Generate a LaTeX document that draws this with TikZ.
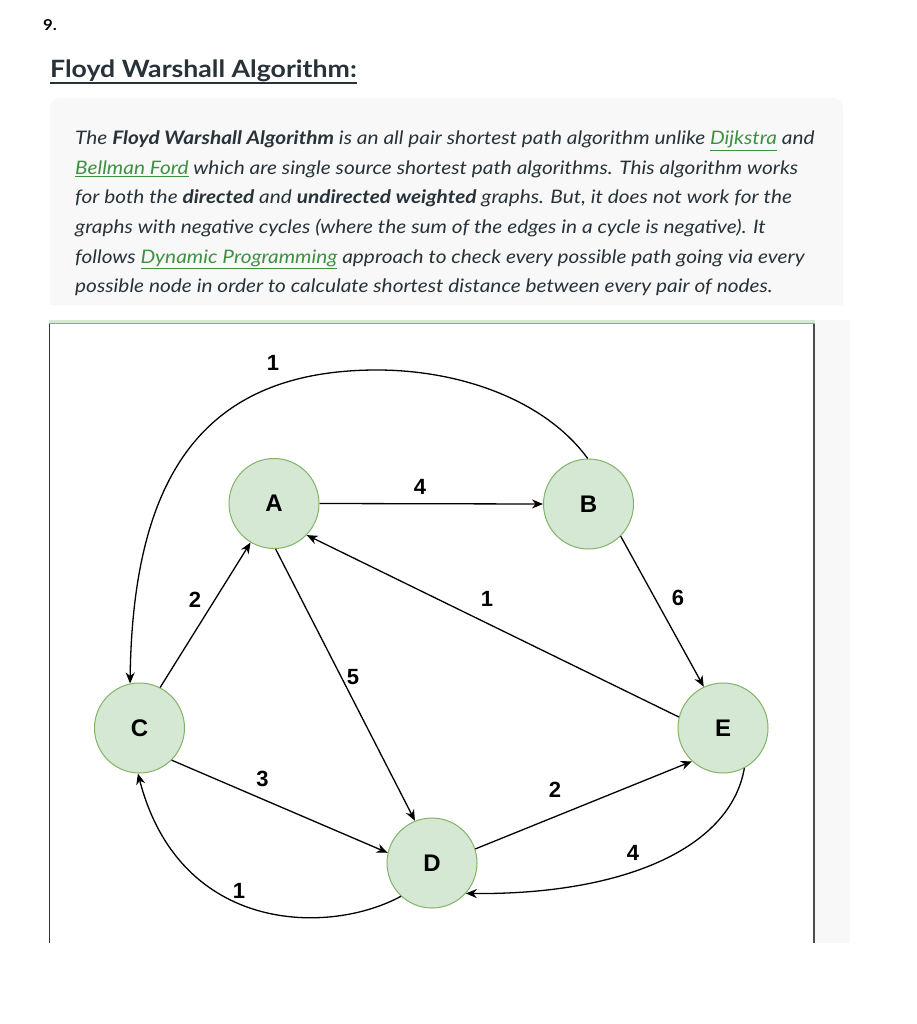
\documentclass[tikz,border=0pt]{standalone}
\usepackage{fontspec}
\setmainfont{Lato}[FakeStretch=1.12]
\newfontfamily\dfont{Liberation Sans}
\usetikzlibrary{arrows.meta}
\definecolor{txt}{HTML}{273239}
\definecolor{lnk}{HTML}{3F9142}
\definecolor{nfill}{HTML}{D5E8D4}
\definecolor{nline}{HTML}{82B366}
\definecolor{panel}{HTML}{F8F8F8}
\newcommand\lk[1]{\textcolor{lnk}{\underline{#1}}}
\tikzset{
  vtx/.style={circle, fill=nfill, draw=nline, line width=1pt, minimum size=90pt, inner sep=0pt,
    font=\dfont\bfseries\fontsize{24}{24}\selectfont},
  edge/.style={draw=black, line width=1.3pt, -{Stealth[length=11pt,width=9pt,inset=3.5pt]}},
  wlab/.style={font=\dfont\bfseries\fontsize{22}{22}\selectfont, inner sep=0pt},
  para/.style={anchor=base west, inner sep=0pt, text=txt, font=\fontsize{18.6}{22}\selectfont\itshape}
}
\begin{document}
\begin{tikzpicture}[x=1pt,y=-1pt]
\useasboundingbox (0,0) rectangle (916,1024);
\fill[white] (0,0) rectangle (916,1024);

% header
\node[anchor=base west, inner sep=0pt, font=\fontsize{15}{17}\selectfont\bfseries] (num) at (43,31) {9.};
\node[anchor=base west, inner sep=0pt, text=txt, font=\fontsize{23.8}{28}\selectfont\bfseries] (title) at (50,78) {Floyd Warshall Algorithm:};
\draw[txt, line width=1.4pt] ([yshift=-5pt]title.base west) -- ([yshift=-5pt]title.base east);

% text box
\fill[panel, rounded corners=10pt] (50,305) -- (50,98) -- (843,98) -- (843,305);
\node[para] (l1) at (75,145) {The \textbf{Floyd Warshall Algorithm} is an all pair shortest path algorithm unlike \lk{Dijkstra} and};
\node[para] (l2) at (75,174.5) {\lk{Bellman Ford} which are single source shortest path algorithms. This algorithm works};
\node[para] (l3) at (75,204) {for both the \textbf{directed} and \textbf{undirected weighted} graphs. But, it does not work for the};
\node[para] (l4) at (75,233.5) {graphs with negative cycles (where the sum of the edges in a cycle is negative). It};
\node[para] (l5) at (75,263) {follows \lk{Dynamic Programming} approach to check every possible path going via every};
\node[para] (l6) at (75,292.5) {possible node in order to calculate shortest distance between every pair of nodes.};

% image frame
\fill[panel] (815,320) rectangle (850,943);
\fill[nfill] (49,320) rectangle (815,323);
\draw[nline, line width=1.5pt] (49,323.5) -- (815,323.5);
\draw[black!80, line width=1.3pt] (49.5,324) -- (49.5,943);
\draw[black!70, line width=1.3pt] (814,324) -- (814,943);

% nodes
\node[vtx] (A) at (274,503.5) {A};
\node[vtx] (B) at (588.5,504) {B};
\node[vtx] (C) at (139.5,728) {C};
\node[vtx] (D) at (432,863) {D};
\node[vtx] (E) at (723,728) {E};
\coordinate (top) at (377,370);

% edges
\draw[edge] (A.0) -- (B.180);
\draw[edge] (C.63) -- (A.239);
\draw[edge] (A.272) -- (D.112);
\draw[edge] (E.166) -- (A.316);
\draw[edge] (B.315) -- (E.115);
\draw[edge] (C.315) -- (D.167);
\draw[edge] (D.18) -- (E.227);
\draw[edge] (E.298) .. controls (730,850) and (620,895) .. (D.318);
\draw[edge] (D.227) .. controls (330,935) and (180,935) .. (C.268);
\draw[edge] (B.91) .. controls (545,400) and (460,370) .. (top) .. controls (200,370) and (133,480) .. (C.102);

% weights
\node[wlab] (wBC) at (273,363) {1};
\node[wlab] (wAB) at (420,487) {4};
\node[wlab] (wCA) at (195,600) {2};
\node[wlab] (wAD) at (353,677) {5};
\node[wlab] (wEA) at (487,599) {1};
\node[wlab] (wBE) at (678,598) {6};
\node[wlab] (wCD) at (262.5,779) {3};
\node[wlab] (wDE) at (555,790) {2};
\node[wlab] (wED) at (633,853) {4};
\node[wlab] (wDC) at (239,891) {1};
\end{tikzpicture}
\end{document}
